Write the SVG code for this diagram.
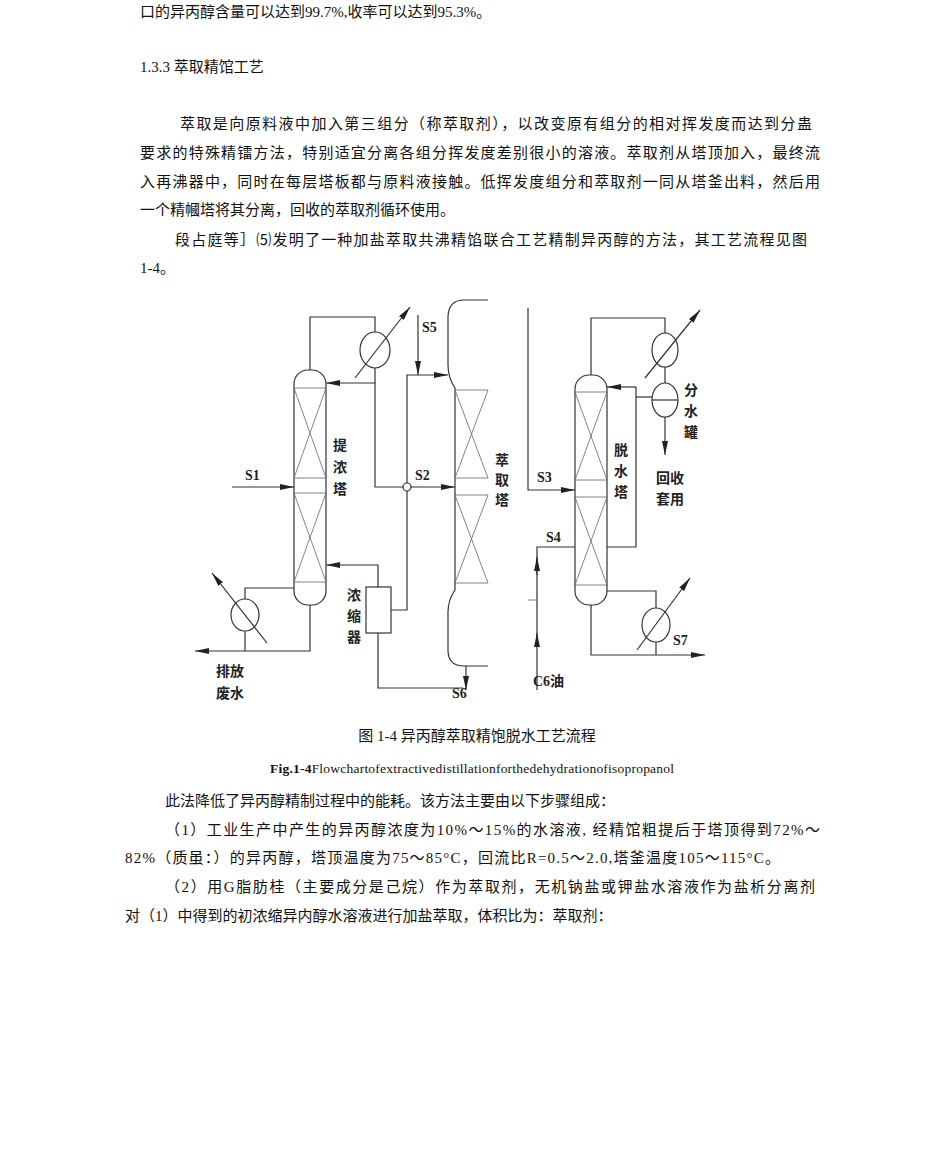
<svg xmlns="http://www.w3.org/2000/svg" width="950" height="1168" viewBox="0 0 950 1168">
<defs>
<marker id="b" viewBox="0 0 14 6" refX="14" refY="3" markerWidth="14" markerHeight="7" orient="auto" markerUnits="userSpaceOnUse"><path d="M0,0L14,3L0,6z" fill="#222"/></marker>
</defs>
<style>
.t{font-family:"Liberation Serif","Noto Sans CJK SC",serif;font-size:15px;fill:#111}
.l{font-family:"Liberation Serif","Noto Sans CJK SC",serif;font-size:14px;fill:#222;font-weight:bold}
.s{fill:none;stroke:#333;stroke-width:1.2}
.f{fill:none;stroke:#666;stroke-width:0.8}
</style>
<rect width="950" height="1168" fill="#fff"/>
<g id="text">
<text class="t" x="140" y="17">口的异丙醇含量可以达到99.7%,收率可以达到95.3%。</text>
<text class="t" x="140" y="72">1.3.3 萃取精馆工艺</text>
<text class="t" x="180" y="129" textLength="632">萃取是向原料液中加入第三组分（称萃取剂），以改变原有组分的相对挥发度而达到分蛊</text>
<text class="t" x="140" y="158" textLength="680">要求的特殊精镭方法，特别适宜分离各组分挥发度差别很小的溶液。萃取剂从塔顶加入，最终流</text>
<text class="t" x="140" y="187" textLength="680">入再沸器中，同时在每层塔板都与原料液接触。低挥发度组分和萃取剂一同从塔釜出料，然后用</text>
<text class="t" x="140" y="215">一个精幗塔将其分离，回收的萃取剂循环使用。</text>
<text class="t" x="175" y="245" textLength="632">段占庭等］⑸发明了一种加盐萃取共沸精馅联合工艺精制异丙醇的方法，其工艺流程见图</text>
<text class="t" x="140" y="273">1-4。</text>
<text class="t" x="477" y="741" text-anchor="middle">图 1-4 异丙醇萃取精饱脱水工艺流程</text>
<text class="t" x="472" y="773" text-anchor="middle" textLength="404" style="font-size:13.5px"><tspan font-weight="bold">Fig.1-4</tspan>Flowchartofextractivedistillationforthedehydrationofisopropanol</text>
<text class="t" x="165" y="806">此法降低了异丙醇精制过程中的能耗。该方法主要由以下步骤组成：</text>
<text class="t" x="165" y="835" textLength="655">（1）工业生产中产生的异丙醇浓度为10%〜15%的水溶液, 经精馆粗提后于塔顶得到72%〜</text>
<text class="t" x="125" y="863" textLength="655">82%（质虽：）的异丙醇，塔顶温度为75〜85°C，回流比R=0.5〜2.0,塔釜温度105〜115°C。</text>
<text class="t" x="165" y="892" textLength="650">（2）用G脂肪桂（主要成分是己烷）作为萃取剂，无机钠盐或钾盐水溶液作为盐析分离剂</text>
<text class="t" x="125" y="921">对（1）中得到的初浓缩异内醇水溶液进行加盐萃取，体积比为：萃取剂：</text>
</g>
<g id="col1">
<rect class="s" x="294" y="370" width="32" height="235" rx="14"/>
<path class="f" d="M294,388H326M294,478H326M294,493H326M294,582H326M294,388L326,478M326,388L294,478M294,493L326,582M326,493L294,582"/>
<text class="l" x="333" y="450">提</text><text class="l" x="333" y="472">浓</text><text class="l" x="333" y="494">塔</text>
</g>
<g id="cond1"><ellipse class="s" cx="375" cy="350" rx="15" ry="18"/></g>
<g id="reb1"><ellipse class="s" cx="245" cy="615" rx="14" ry="16"/></g>
<g id="concentrator"><rect class="s" x="366" y="587" width="25" height="46"/>
<text class="l" x="347" y="600">浓</text><text class="l" x="347" y="621">缩</text><text class="l" x="347" y="642">器</text></g>
<g id="col2">
<path class="s" d="M488,300H464Q448,300 448,318V365Q448,378 455,388V590Q448,600 448,612V650Q448,666 464,666H488"/>
<path class="f" d="M455,390H488M455,478H488M455,495H488M455,583H488M455,390L488,478M488,390L455,478M455,495L488,583M488,495L455,583"/>
<text class="l" x="495" y="465">萃</text><text class="l" x="495" y="485">取</text><text class="l" x="495" y="505">塔</text>
</g>
<g id="col3">
<rect class="s" x="575" y="375" width="32" height="230" rx="14"/>
<path class="f" d="M575,392H607M575,480H607M575,497H607M575,585H607M575,392L607,480M607,392L575,480M575,497L607,585M607,497L575,585"/>
<text class="l" x="614" y="455">脱</text><text class="l" x="614" y="476">水</text><text class="l" x="614" y="497">塔</text>
</g>
<g id="cond3"><ellipse class="s" cx="665" cy="350" rx="13" ry="17"/></g>
<g id="separator"><ellipse class="s" cx="665" cy="400" rx="13" ry="17"/><path class="s" d="M652,400H678"/>
<text class="l" x="684" y="395">分</text><text class="l" x="684" y="416">水</text><text class="l" x="684" y="437">罐</text></g>
<g id="reb3"><ellipse class="s" cx="656" cy="625" rx="14" ry="17"/></g>
<g id="connectors">
<path class="s" d="M310,370V317H375V332"/>
<path class="s" d="M375,368V383H326" marker-end="url(#b)"/>
<path class="s" d="M355,378L410,307" marker-end="url(#b)"/>
<path class="s" d="M375,383V487H403"/>
<circle class="s" cx="407" cy="487" r="4"/>
<path class="s" d="M411,487H455" marker-end="url(#b)"/>
<path class="s" d="M232,487H294" marker-end="url(#b)"/>
<path class="s" d="M391,610H407V491"/>
<path class="s" d="M407,483V375H448" marker-end="url(#b)"/>
<path class="s" d="M418,315V375" marker-end="url(#b)"/>
<path class="s" d="M378,587V565H326" marker-end="url(#b)"/>
<path class="s" d="M378,633V688H463"/>
<path class="s" d="M466,666V690" marker-end="url(#b)"/>
<path class="s" d="M294,588H245V599"/>
<path class="s" d="M245,631V651"/>
<path class="s" d="M310,605V651H195" marker-end="url(#b)"/>
<path class="s" d="M267,643L212,573" marker-end="url(#b)"/>
<path class="s" d="M528,308V490H575" marker-end="url(#b)"/>
<path class="s" d="M591,375V318H665V333"/>
<path class="s" d="M665,367V383"/>
<path class="s" d="M645,378L700,310" marker-end="url(#b)"/>
<path class="s" d="M665,417V455" marker-end="url(#b)"/>
<path class="s" d="M652,397H636"/>
<path class="s" d="M636,387H607" marker-end="url(#b)"/>
<path class="s" d="M636,387V547H607"/>
<path class="s" d="M575,547H537V690"/>
<path class="s" d="M537,575V557" marker-end="url(#b)"/>
<path class="s" d="M537,645V633" marker-end="url(#b)"/>
<path class="f" d="M528,600H537"/>
<path class="s" d="M607,591H656V608"/>
<path class="s" d="M656,642V655"/>
<path class="s" d="M591,605V655H705" marker-end="url(#b)"/>
<path class="s" d="M637,650L690,578" marker-end="url(#b)"/>
</g>
<g id="labels">
<text class="l" x="245" y="480">S1</text>
<text class="l" x="422" y="332">S5</text>
<text class="l" x="415" y="480">S2</text>
<text class="l" x="452" y="698">S6</text>
<text class="l" x="216" y="676">排放</text><text class="l" x="216" y="698">废水</text>
<text class="l" x="537" y="482">S3</text>
<text class="l" x="546" y="542">S4</text>
<text class="l" x="533" y="686">C6油</text>
<text class="l" x="673" y="645">S7</text>
<text class="l" x="656" y="483">回收</text><text class="l" x="656" y="504">套用</text>
</g>
</svg>
